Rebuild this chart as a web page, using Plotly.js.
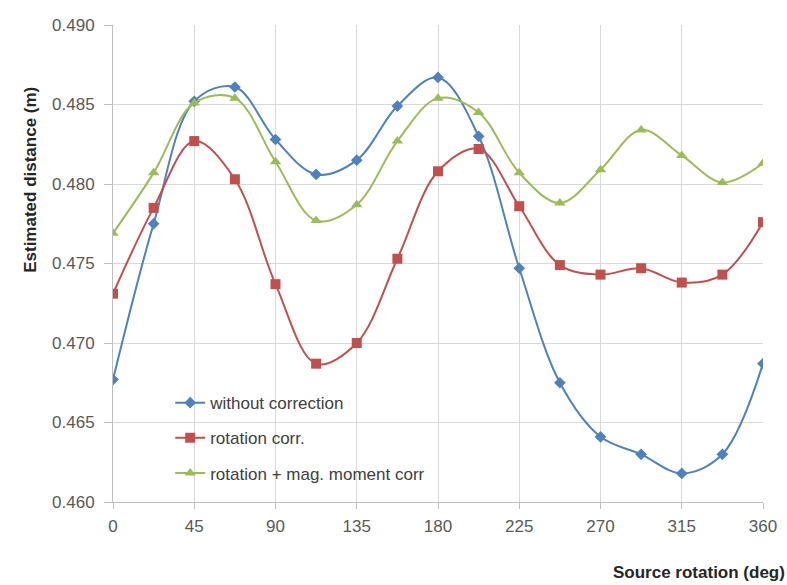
<!DOCTYPE html>
<html>
<head>
<meta charset="utf-8">
<script src="https://cdn.plot.ly/plotly-3.0.1.min.js"></script>
<style>html,body{margin:0;padding:0;background:#fff;}#chart{width:787px;height:585px;}</style>
</head>
<body>
<div id="chart"></div>
<script>
const rotation = [0, 22.5, 45, 67.5, 90, 112.5, 135, 157.5, 180, 202.5, 225, 247.5, 270, 292.5, 315, 337.5, 360];
const withoutCorrection = [0.4677, 0.4775, 0.4852, 0.4861, 0.4828, 0.4806, 0.4815, 0.4849, 0.4867, 0.4830, 0.4747, 0.4675, 0.4641, 0.4630, 0.4618, 0.4630, 0.4687];
const rotationCorr = [0.4731, 0.4785, 0.4827, 0.4803, 0.4737, 0.4687, 0.4700, 0.4753, 0.4808, 0.4822, 0.4786, 0.4749, 0.4743, 0.4747, 0.4738, 0.4743, 0.4776];
const rotationMagCorr = [0.4769, 0.4807, 0.4851, 0.4854, 0.4814, 0.4777, 0.4787, 0.4827, 0.4854, 0.4845, 0.4807, 0.4788, 0.4809, 0.4834, 0.4818, 0.4801, 0.4813];
const seriesNames = ["without correction", "rotation corr.", "rotation + mag. moment corr"];
const xTicks = [0, 45, 90, 135, 180, 225, 270, 315, 360];
const yTicks = [0.460, 0.465, 0.470, 0.475, 0.480, 0.485, 0.490];

const colors = ["#4F81BD", "#C0504D", "#9BBB59"];
const symbols = ["diamond", "square", "triangle-up"];
const sizes = [9, 10, 10];
const ys = [withoutCorrection, rotationCorr, rotationMagCorr];

const traces = ys.map((y, i) => ({
  x: rotation, y: y, name: seriesNames[i], type: "scatter", mode: "lines+markers",
  legendgroup: "g" + i,
  line: {color: colors[i], width: 2, shape: "spline", smoothing: 1},
  marker: {color: colors[i], symbol: symbols[i], size: sizes[i]}
}));

const font = "Liberation Sans, Arial, sans-serif";
const layout = {
  width: 787, height: 585,
  margin: {l: 113, r: 24, t: 25, b: 83},
  paper_bgcolor: "#fff", plot_bgcolor: "#fff",
  font: {family: font, size: 17, color: "#595959"},
  showlegend: true,
  legend: {x: 0.088, y: 0.245, xanchor: "left", yanchor: "top", bgcolor: "rgba(0,0,0,0)",
           traceorder: "grouped", tracegroupgap: 10, font: {size: 17, color: "#404040"}},
  xaxis: {range: [0, 360], tickvals: xTicks, ticktext: xTicks.map(String),
          showgrid: true, gridcolor: "#d9d9d9", gridwidth: 1,
          showline: true, linecolor: "#bfbfbf", linewidth: 1, zeroline: false,
          ticks: "outside", ticklen: 6, tickcolor: "#bfbfbf", ticklabelstandoff: 3,
          tickfont: {size: 17, color: "#595959"}},
  yaxis: {range: [0.460, 0.490], tickvals: yTicks, ticktext: yTicks.map(v => v.toFixed(3)),
          showgrid: true, gridcolor: "#d9d9d9", gridwidth: 1,
          showline: true, linecolor: "#bfbfbf", linewidth: 1, zeroline: false,
          ticks: "outside", ticklen: 8, tickcolor: "#bfbfbf", ticklabelstandoff: 6,
          tickfont: {size: 17, color: "#595959"}},
  annotations: [
    {text: "<b>Estimated distance (m)</b>", xref: "paper", yref: "paper", x: -0.128, y: 0.675,
     xanchor: "center", yanchor: "middle", textangle: -90, showarrow: false,
     font: {size: 17, color: "#262626"}},
    {text: "<b>Source rotation (deg)</b>", xref: "paper", yref: "paper", x: 1.037, y: -0.148,
     xanchor: "right", yanchor: "middle", showarrow: false,
     font: {size: 17, color: "#262626"}}
  ]
};

Plotly.newPlot("chart", traces, layout, {displayModeBar: false, staticPlot: true});
</script>
</body>
</html>
